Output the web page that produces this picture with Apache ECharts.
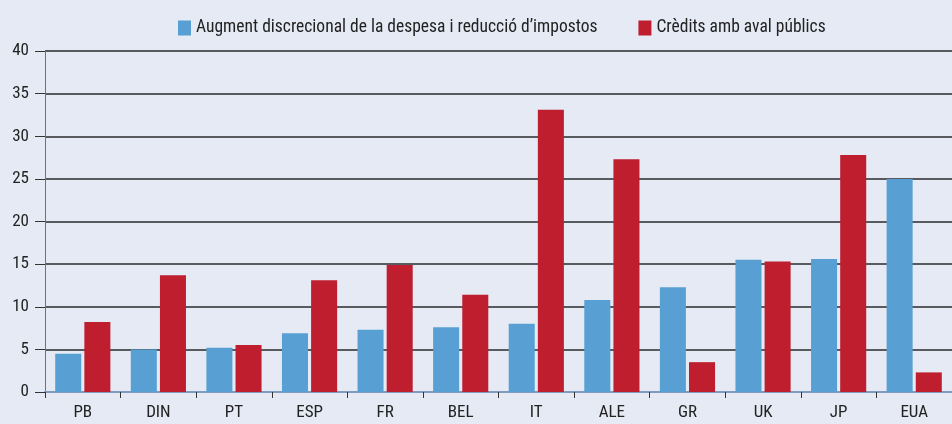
<!DOCTYPE html>
<html><head><meta charset="utf-8">
<script src="https://cdn.jsdelivr.net/npm/echarts@6/dist/echarts.min.js"></script>
<style>html,body{margin:0;padding:0;background:#e5eaf5}#c{width:952px;height:424px}</style>
</head><body><div id="c"></div>
<script>
const categories = ['PB','DIN','PT','ESP','FR','BEL','IT','ALE','GR','UK','JP','EUA'];
const seriesNames = ["Augment discrecional de la despesa i reducció d’impostos", 'Crèdits amb aval públics'];
const discretionary = [4.5, 5.0, 5.2, 6.9, 7.3, 7.6, 8.0, 10.8, 12.3, 15.5, 15.6, 25.0];
const guarantees = [8.2, 13.7, 5.5, 13.1, 14.9, 11.4, 33.1, 27.3, 3.5, 15.3, 27.8, 2.3];
const yTicks = {min: 0, max: 40, interval: 5};

const font = '"Liberation Sans Narrow", "Roboto Condensed", "Liberation Sans", Arial, sans-serif';
const chart = echarts.init(document.getElementById('c'));
chart.setOption({
  backgroundColor: '#e5eaf5',
  animation: false,
  legend: {
    top: 14, left: 173, itemWidth: 13, itemHeight: 15, itemGap: 41,
    icon: 'rect',
    textStyle: {fontFamily: font, fontSize: 17.5, color: '#222'},
    data: seriesNames
  },
  grid: {left: 45, right: 0, top: 51, bottom: 32, containLabel: false},
  xAxis: {
    type: 'category', data: categories,
    axisLine: {lineStyle: {color: '#7f9bbd', width: 2}},
    axisTick: {show: true, length: 6, lineStyle: {color: '#333'}},
    axisLabel: {fontFamily: font, fontSize: 17, color: '#222', margin: 12}
  },
  yAxis: {
    type: 'value', min: yTicks.min, max: yTicks.max, interval: yTicks.interval,
    axisLine: {show: true, lineStyle: {color: '#4a7bb0', width: 1}},
    axisTick: {show: true, length: 10, lineStyle: {color: '#333'}},
    axisLabel: {fontFamily: font, fontSize: 17, color: '#222', margin: 16},
    splitLine: {lineStyle: {color: '#2a2a2a', width: 1.5}}
  },
  series: [
    {name: seriesNames[0], type: 'bar', data: discretionary, itemStyle: {color: '#58a0d3'}, barGap: '12%', barCategoryGap: '27%'},
    {name: seriesNames[1], type: 'bar', data: guarantees, itemStyle: {color: '#be1e2e'}}
  ]
});
</script></body></html>
